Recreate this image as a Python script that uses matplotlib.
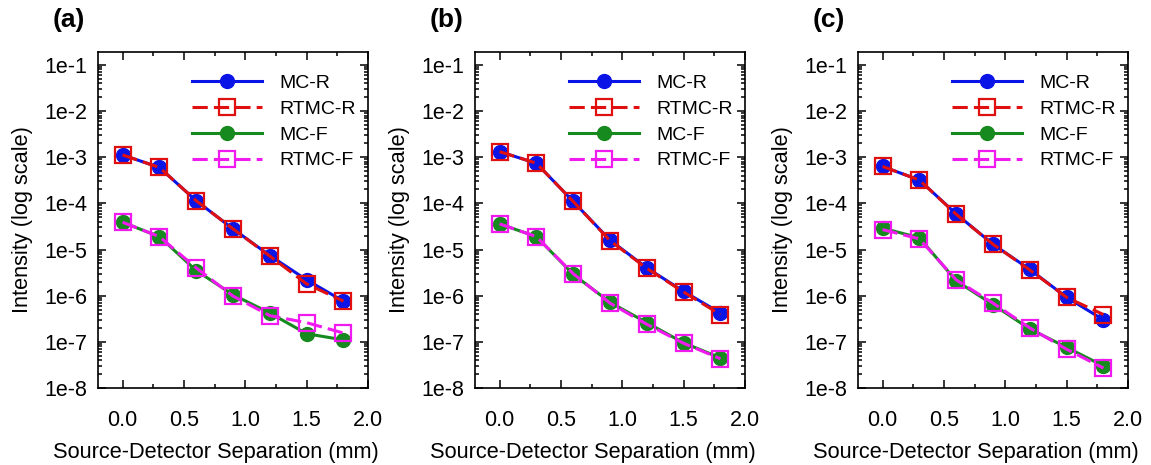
import numpy as np
import matplotlib
matplotlib.use('Agg')
from matplotlib import pyplot as plt
from matplotlib.ticker import LogLocator, MultipleLocator, FuncFormatter, NullFormatter

plt.rcParams['font.family'] = ['Liberation Sans', 'DejaVu Sans']
plt.rcParams['axes.unicode_minus'] = False

# source-detector separation (mm)
sep = [0.0, 0.3, 0.6, 0.9, 1.2, 1.5, 1.8]

# panel (a)
a_mc_r = [1.12e-3, 6.0e-4, 1.14e-4, 2.8e-5, 7.4e-6, 2.2e-6, 7.6e-7]
a_rtmc_r = [1.12e-3, 6.0e-4, 1.14e-4, 2.8e-5, 7.2e-6, 1.8e-6, 7.6e-7]
a_mc_f = [3.9e-5, 1.9e-5, 3.5e-6, 1.05e-6, 4.2e-7, 1.5e-7, 1.1e-7]
a_rtmc_f = [3.9e-5, 1.9e-5, 4.0e-6, 9.8e-7, 3.7e-7, 2.6e-7, 1.55e-7]

# panel (b)
b_mc_r = [1.32e-3, 7.4e-4, 1.1e-4, 1.6e-5, 4.0e-6, 1.24e-6, 4.2e-7]
b_rtmc_r = [1.32e-3, 7.4e-4, 1.1e-4, 1.55e-5, 3.9e-6, 1.2e-6, 3.9e-7]
b_mc_f = [3.6e-5, 1.9e-5, 2.9e-6, 7.2e-7, 2.6e-7, 9.5e-8, 4.5e-8]
b_rtmc_f = [3.6e-5, 1.9e-5, 3.0e-6, 6.9e-7, 2.4e-7, 9.3e-8, 4.3e-8]

# panel (c)
c_mc_r = [6.3e-4, 3.2e-4, 5.9e-5, 1.3e-5, 3.7e-6, 9.2e-7, 3.0e-7]
c_rtmc_r = [6.3e-4, 3.2e-4, 5.8e-5, 1.3e-5, 3.6e-6, 9.2e-7, 3.9e-7]
c_mc_f = [2.9e-5, 1.8e-5, 2.1e-6, 6.4e-7, 1.9e-7, 7.6e-8, 3.0e-8]
c_rtmc_f = [2.7e-5, 1.7e-5, 2.2e-6, 6.9e-7, 2.0e-7, 6.9e-8, 2.7e-8]

panels = [
    ('(a)', a_mc_r, a_rtmc_r, a_mc_f, a_rtmc_f),
    ('(b)', b_mc_r, b_rtmc_r, b_mc_f, b_rtmc_f),
    ('(c)', c_mc_r, c_rtmc_r, c_mc_f, c_rtmc_f),
]
lefts = [98, 475, 858]

fig = plt.figure(figsize=(11.51, 4.65), dpi=100)

for (tag, mc_r, rtmc_r, mc_f, rtmc_f), left in zip(panels, lefts):
    ax = fig.add_axes([left / 1151, 77 / 465, 270 / 1151, 336 / 465])
    ax.plot(sep, mc_r, '-', color='#0a14e6', lw=2.2, marker='o', ms=10,
            label='MC-R')
    ax.plot(sep, rtmc_r, '--', color='#e01010', lw=2.2, marker='s', ms=11,
            mfc='none', mew=1.6, dashes=(5, 2), label='RTMC-R')
    ax.plot(sep, mc_f, '-', color='#168a1e', lw=2.2, marker='o', ms=10,
            label='MC-F')
    ax.plot(sep, rtmc_f, '--', color='#f01af0', lw=2.2, marker='s', ms=11,
            mfc='none', mew=1.6, dashes=(5, 2), label='RTMC-F')

    ax.set_yscale('log')
    ax.set_ylim(1e-8, 1.9e-1)
    ax.set_xlim(-0.2, 2.0)
    ax.set_yticks([1e-8, 1e-7, 1e-6, 1e-5, 1e-4, 1e-3, 1e-2, 1e-1])
    ax.yaxis.set_major_formatter(FuncFormatter(lambda v, p: '1e%d' % round(np.log10(v))))
    ax.yaxis.set_minor_locator(LogLocator(base=10, subs=np.arange(2, 10), numticks=20))
    ax.yaxis.set_minor_formatter(NullFormatter())
    ax.xaxis.set_major_locator(MultipleLocator(0.5))
    ax.xaxis.set_minor_locator(MultipleLocator(0.25))
    ax.xaxis.set_major_formatter(FuncFormatter(lambda v, p: '%.1f' % v))

    ax.tick_params(which='both', direction='in', top=True, right=True,
                   labelsize=15.5, width=1.1)
    ax.tick_params(axis='x', which='major', length=6, pad=16)
    ax.tick_params(axis='y', which='major', length=6, pad=8)
    ax.tick_params(which='minor', length=3)
    for s in ax.spines.values():
        s.set_linewidth(1.2)

    ax.set_xlabel('Source-Detector Separation (mm)', fontsize=15.7, labelpad=8,
                  x=0.437)
    ax.set_ylabel('Intensity (log scale)', fontsize=15.7, labelpad=8)
    ax.text(-0.167, 1.095, tag, transform=ax.transAxes, fontsize=19,
            fontweight='bold', va='center', ha='left')

    ax.legend(loc='upper right', bbox_to_anchor=(1.02, 0.985), frameon=False,
              fontsize=14, handlelength=3.6, labelspacing=0.42,
              handletextpad=0.9)

fig.savefig('out.png', dpi=100)
